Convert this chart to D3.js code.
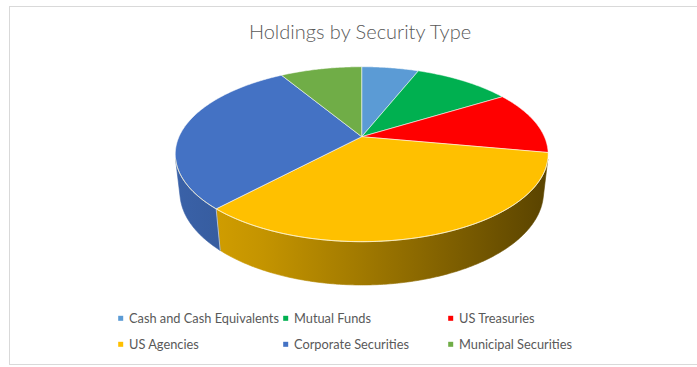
<!DOCTYPE html>
<html>
<head>
<meta charset="utf-8">
<script src="https://cdn.jsdelivr.net/npm/d3@7"></script>
<style>
  html, body { margin: 0; padding: 0; background: #fff; }
  svg { display: block; }
  text { font-family: Lato, "Open Sans", sans-serif; fill: #595959; }
</style>
</head>
<body>
<svg id="chart" width="697" height="367"></svg>
<script>
// Share of holdings (%) by security type
const categories = [
  "Cash and Cash Equivalents",
  "Mutual Funds",
  "US Treasuries",
  "US Agencies",
  "Corporate Securities",
  "Municipal Securities"
];
const values = [6.0, 10.2, 11.7, 34.0, 29.5, 8.6];
const colors = ["#5B9BD5", "#00B050", "#FF0000", "#FFC000", "#4472C4", "#70AD47"];
const title = "Holdings by Security Type";

const W = 697, H = 367;
const svg = d3.select("#chart");

// chart frame
svg.append("rect")
  .attr("x", 9.5).attr("y", 6.5)
  .attr("width", 692).attr("height", 358)
  .attr("fill", "#fff").attr("stroke", "#d9d9d9").attr("stroke-width", 1);

svg.append("text")
  .attr("x", 360).attr("y", 38.5)
  .attr("text-anchor", "middle")
  .style("font-size", "20px")
  .style("font-weight", 300)
  .text(title);

// --- perspective projection of a disc lying in a horizontal plane ---
// theta: clockwise angle from the far point, r: radius (unit), h: depth below the top face
const cam = { cx: 361.7, cy: 136.7, F: 811, D: 4.44, tilt: Math.asin(0.4597) };
const sT = Math.sin(cam.tilt), cT = Math.cos(cam.tilt);
const depth = 0.236;
function project(theta, r, h) {
  const X = r * Math.sin(theta), Z = r * Math.cos(theta);
  const v = Z * sT - h * cT;
  const w = cam.D + Z * cT + h * sT;
  return [cam.cx + cam.F * X / w, cam.cy - cam.F * v / w];
}

const pie = d3.pie().sort(null).value(d => d.value).startAngle(0).endAngle(2 * Math.PI);
const arcs = pie(categories.map((c, i) => ({ name: c, value: values[i], color: colors[i] })));

const line = d3.line();
function arcPoints(a0, a1, r, h) {
  const n = Math.max(2, Math.ceil(Math.abs(a1 - a0) / 0.01));
  return d3.range(n + 1).map(k => project(a0 + (a1 - a0) * k / n, r, h));
}

// outer wall is seen from the camera where cos(theta) < -1/(D cos tilt)
const wallLimit = Math.acos(-1 / (cam.D * cT));
const wallMin = wallLimit, wallMax = 2 * Math.PI - wallLimit;

// side shading: lit from the left, falling off to the right
const defs = svg.append("defs");
const xLeft = project(-Math.PI / 2 - 0.2, 1, 0)[0] - 5;
const xRight = W - xLeft + 14;
const shade = [[0, 0.86], [0.25, 0.77], [0.5, 0.64], [0.75, 0.5], [1, 0.36]];
arcs.forEach((d, i) => {
  const g = defs.append("linearGradient")
    .attr("id", "side" + i)
    .attr("gradientUnits", "userSpaceOnUse")
    .attr("x1", xLeft).attr("x2", xRight).attr("y1", 0).attr("y2", 0);
  const base = d3.rgb(d.data.color);
  shade.forEach(([t, f]) => {
    g.append("stop").attr("offset", t)
      .attr("stop-color", d3.rgb(base.r * f, base.g * f, base.b * f).formatHex());
  });
});

const pieG = svg.append("g");

// walls
arcs.forEach((d, i) => {
  const a0 = Math.max(d.startAngle, wallMin), a1 = Math.min(d.endAngle, wallMax);
  if (a1 <= a0) return;
  const pts = arcPoints(a0, a1, 1, 0).concat(arcPoints(a1, a0, 1, depth));
  pieG.append("path")
    .attr("d", line(pts) + "Z")
    .attr("fill", `url(#side${i})`)
    .attr("stroke", `url(#side${i})`)
    .attr("stroke-width", 0.6);
});

// faint edges between wall segments
arcs.forEach(d => {
  const a = d.startAngle;
  if (a > wallMin && a < wallMax) {
    pieG.append("path")
      .attr("d", line([project(a, 1, 0), project(a, 1, depth)]))
      .attr("stroke", "#fff").attr("stroke-opacity", 0.55).attr("stroke-width", 1);
  }
});

// top faces
arcs.forEach(d => {
  const pts = [project(0, 0, 0)].concat(arcPoints(d.startAngle, d.endAngle, 1, 0));
  pieG.append("path")
    .attr("d", line(pts) + "Z")
    .attr("fill", d.data.color)
    .attr("stroke", "#ffffff").attr("stroke-opacity", 0.6)
    .attr("stroke-width", 0.9)
    .attr("stroke-linejoin", "round");
});

// light rim where top meets wall
pieG.append("path")
  .attr("d", line(arcPoints(wallMin, wallMax, 1, 0)))
  .attr("fill", "none").attr("stroke", "#fff6d0").attr("stroke-opacity", 0.7).attr("stroke-width", 1);

// legend
const legendCols = [120.7, 285.7, 450.7];
const legendRows = [318.3, 344.3];
const legend = svg.append("g");
arcs.forEach((d, i) => {
  const x = legendCols[i % 3], y = legendRows[Math.floor(i / 3)];
  legend.append("rect")
    .attr("x", x - 2.5).attr("y", y - 2.5).attr("width", 5).attr("height", 5)
    .attr("fill", d.data.color);
  legend.append("text")
    .attr("x", x + 8.3).attr("y", y + 4.5)
    .style("font-size", "12.8px")
    .text(d.data.name);
});
</script>
</body>
</html>
